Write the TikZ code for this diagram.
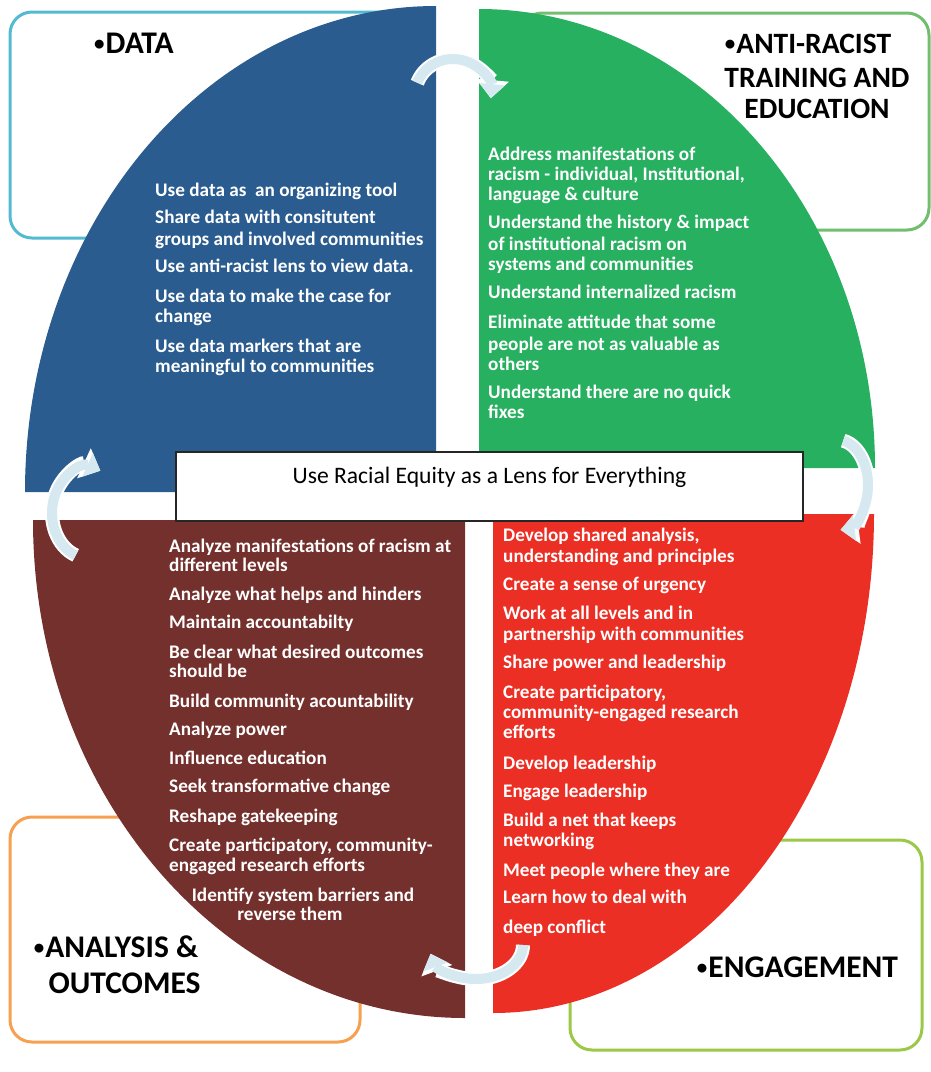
\documentclass[tikz,border=0pt]{standalone}
\usepackage{fontspec}
\setmainfont{Carlito}
\usetikzlibrary{arrows.meta}
\definecolor{qblue}{RGB}{42,92,143}
\definecolor{qgreen}{RGB}{38,176,96}
\definecolor{qbrown}{RGB}{116,48,44}
\definecolor{qred}{RGB}{236,47,36}
\definecolor{bcyan}{RGB}{84,186,210}
\definecolor{bgreen}{RGB}{112,190,110}
\definecolor{borange}{RGB}{247,160,80}
\definecolor{blime}{RGB}{155,200,70}
\definecolor{arrcol}{RGB}{214,232,240}
\newcommand\hbul{{\fontsize{21}{21}\selectfont\raisebox{2.5pt}{•}}\hspace{1pt}}
\begin{document}
\begin{tikzpicture}[x=1pt,y=-1pt,
  frame/.style={line width=3pt, rounded corners=22pt, fill=white},
  body/.style={text=white, font=\fontsize{19.2}{21}\selectfont\bfseries, inner sep=0pt, anchor=base west},
  head/.style={text=black, font=\fontsize{31.5}{34}\selectfont\bfseries, inner sep=0pt, anchor=base},
  headsm/.style={head, font=\fontsize{29.5}{32}\selectfont\bfseries},
  flowarrow/.style={line width=10pt, draw=arrcol, -{Triangle[width=26pt,length=14pt,line width=0pt]},
    preaction={draw=white, line width=14pt, -{Triangle[width=33pt,length=18pt,line width=0pt]}}},
  lens/.style={draw=black!85, line width=1.3pt, fill=white, inner sep=0pt, minimum width=627pt,
    text height=31pt, text depth=38pt, font=\fontsize{23.6}{26}\selectfont}]
\useasboundingbox (0,0) rectangle (931,1072);
% frames behind
\draw[frame, draw=bcyan] (10,12) rectangle (420,238);
\draw[frame, draw=bgreen] (520,13) rectangle (929,230);
\draw[frame, draw=borange] (10,817) rectangle (360,1042);
\draw[frame, draw=blime] (570,840) rectangle (922,1050);
% quadrants
\fill[qblue] (436,492) -- (25,492) arc[start angle=180, end angle=90, x radius=411pt, y radius=486pt] -- cycle;
\fill[qgreen] (479,468) -- (479,9) arc[start angle=90, end angle=0, x radius=396pt, y radius=459pt] -- cycle;
\fill[qbrown] (465,520) -- (33,520) arc[start angle=180, end angle=270, x radius=432pt, y radius=498pt] -- cycle;
\fill[qred] (493,514) -- (874,514) arc[start angle=0, end angle=-90, x radius=381pt, y radius=499pt] -- cycle;
% cycle arrows
\path (453,95) ++(160:38pt and 36pt) coordinate (a1);
\path (838,485) ++(80:30pt and 45pt) coordinate (a2);
\path (476,945) ++(0:47pt and 34pt) coordinate (a3);
\path (88,513) ++(250:36pt and 45pt) coordinate (a4);
\draw[flowarrow] (a1) arc[start angle=160, end angle=-5, x radius=38pt, y radius=36pt];
\draw[flowarrow] (a2) arc[start angle=80, end angle=-85, x radius=30pt, y radius=45pt];
\draw[flowarrow] (a3) arc[start angle=0, end angle=-165, x radius=47pt, y radius=34pt];
\draw[flowarrow] (a4) arc[start angle=250, end angle=70, x radius=36pt, y radius=45pt];
% centre box
\node[lens] (lens) at (489.5,486.5) {Use Racial Equity as a Lens for Everything};
% headings
\node[head, anchor=base west] (hdata) at (94,53) {\hbul DATA};
\node[headsm] (hanti1) at (808,53) {\hbul ANTI-RACIST};
\node[headsm] (hanti2) at (817,87) {TRAINING AND};
\node[headsm] (hanti3) at (817,118) {EDUCATION};
\node[head] (hana1) at (116,957) {\hbul ANALYSIS \&};
\node[head] (hana2) at (124.5,993) {OUTCOMES};
\node[head] (heng) at (797.5,977) {\hbul ENGAGEMENT};
% blue text
\foreach \yy/\txt [count=\i] in {
  196/{Use data as~ an organizing tool},
  223/{Share data with consitutent},
  245/{groups and involved communities},
  272/{Use anti-racist lens to view data.},
  302/{Use data to make the case for},
  322/{change},
  352/{Use data markers that are},
  372/{meaningful to communities}}
  \node[body] (bl\i) at (155,\yy) {\txt};
% green text
\foreach \yy/\txt [count=\i] in {
  160/{Address manifestations of},
  180/{racism - individual, Institutional,},
  200/{language \& culture},
  228/{Understand the history \& impact},
  250/{of institutional racism on},
  270/{systems and communities},
  298/{Understand internalized racism},
  328/{Eliminate attitude that some},
  350/{people are not as valuable as},
  370/{others},
  398/{Understand there are no quick},
  418/{fixes}}
  \node[body] (gr\i) at (488,\yy) {\txt};
% brown text
\foreach \yy/\txt [count=\i] in {
  552/{Analyze manifestations of racism at},
  571/{different levels},
  600/{Analyze what helps and hinders},
  628/{Maintain accountabilty},
  658/{Be clear what desired outcomes},
  677/{should be},
  707/{Build community acountability},
  735/{Analyze power},
  764/{Influence education},
  792/{Seek transformative change},
  822/{Reshape gatekeeping},
  851/{Create participatory, community-},
  871/{engaged research efforts}}
  \node[body] (br\i) at (169,\yy) {\txt};
\node[body, anchor=base] (br14) at (303,901) {Identify system barriers and};
\node[body, anchor=base] (br15) at (290,920) {reverse them};
% red text
\foreach \yy/\txt [count=\i] in {
  541/{Develop shared analysis,},
  562/{understanding and principles},
  590/{Create a sense of urgency},
  619/{Work at all levels and in},
  640/{partnership with communities},
  668/{Share power and leadership},
  698/{Create participatory,},
  718/{community-engaged research},
  738/{efforts},
  769/{Develop leadership},
  797/{Engage leadership},
  826/{Build a net that keeps},
  846/{networking},
  876/{Meet people where they are},
  903/{Learn how to deal with},
  933/{deep conflict}}
  \node[body] (rd\i) at (503,\yy) {\txt};
\end{tikzpicture}
\end{document}
